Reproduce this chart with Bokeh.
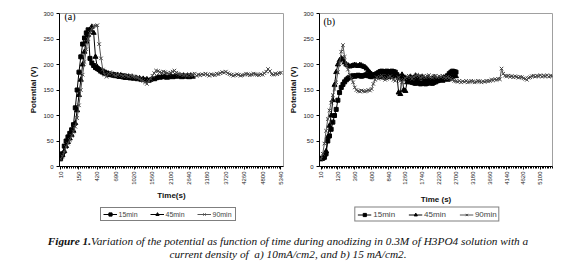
import math
from bokeh.plotting import figure
from bokeh.models import Range1d, FixedTicker, Legend, LegendItem, Label, Div
from bokeh.layouts import row, column
from bokeh.embed import file_html
from bokeh.resources import INLINE

# ---------------- data: panel (a), 10 mA/cm2 ----------------
ticks_a = ["10", "150", "420", "690", "1020", "1560", "2100", "2640", "3180",
           "3720", "4260", "4800", "5340"]
a_15min = [15, 25, 40, 50, 58, 65, 72, 82, 115, 150,
           185, 215, 240, 252, 262, 268, 212, 203, 198, 194,
           192, 190, 188, 186, 185, 183, 182, 181, 180, 180,
           179, 178, 177, 178, 176, 175, 176, 175, 174]
a_45min = [18, 22, 30, 40, 48, 55, 62, 70, 85, 110,
           140, 170, 200, 225, 245, 258, 268, 274, 262, 215,
           195, 190, 186, 184, 182, 181, 180, 179, 180, 178,
           177, 179, 176, 178, 175, 177, 174, 176, 173, 175,
           172, 174, 171, 173, 170, 172, 169, 171, 168, 170,
           172, 171, 173, 175, 174, 176, 175, 177, 174, 176,
           178, 175, 177, 176, 178, 177, 175, 178, 176, 177, 175, 178, 176]
a_90min = [15, 20, 28, 38, 45, 52, 60, 68, 78, 95,
           120, 150, 180, 205, 230, 250, 262, 270, 275, 276,
           277, 240, 212, 190, 180, 176, 182, 185, 183, 180,
           178, 180, 182, 179, 177, 180, 178, 176, 179, 177,
           176, 175, 174, 172, 170, 168, 165, 162, 168, 172,
           178, 183, 188, 187, 185, 184, 186, 185, 183, 182,
           184, 186, 188, 184, 182, 180, 181, 179, 180, 178,
           181, 179, 180, 182, 178, 180, 179, 181, 180, 182,
           180, 178, 181, 180, 179, 182, 181, 183, 185, 184,
           186, 183, 181, 180, 178, 179, 181, 180, 178, 179,
           180, 182, 181, 179, 180, 182, 181, 180, 179, 181,
           180, 183, 186, 191, 187, 181, 180, 182, 181, 183, 184]

# ---------------- data: panel (b), 15 mA/cm2 ----------------
ticks_b = ["10", "120", "360", "600", "840", "1260", "1740", "2220", "2700",
           "3180", "3660", "4140", "4620", "5100"]
b_15min = [15, 16, 18, 25, 50, 60, 73, 87, 100, 112,
           130, 145, 155, 161, 166, 170, 173, 175, 176, 178,
           177, 178, 179, 178, 177, 178, 179, 180, 178, 177,
           176, 178, 180, 182, 184, 186, 187, 186, 185, 187,
           186, 185, 187, 186, 185, 180, 176, 174, 176, 175,
           173, 170, 168, 166, 165, 164, 163, 165, 164, 162,
           163, 164, 162, 163, 165, 164, 163, 165, 166, 168,
           170, 171, 172, 174, 175, 178, 182, 185, 187, 186, 185]
b_45min = [15, 17, 22, 30, 58, 80, 100, 130, 160, 185,
           200, 208, 212, 210, 204, 200, 198, 196, 197, 198,
           199, 198, 197, 199, 198, 196, 195, 192, 188, 184,
           181, 179, 178, 176, 177, 175, 178, 176, 174, 177,
           175, 178, 176, 179, 177, 178, 145, 142, 180, 150,
           148, 165, 172, 176, 170, 174, 178, 172, 175, 173,
           176, 172, 170, 174, 171, 168, 172, 175, 170, 168,
           172, 170, 168, 171, 173, 170, 172, 174, 176, 178, 177]
b_90min = [15, 25, 45, 70, 93, 110, 125, 140, 152, 165,
           185, 203, 225, 238, 215, 200, 190, 180, 172, 165,
           155, 150, 148, 147, 149, 148, 147, 148, 150, 149,
           152, 162, 170, 175, 172, 176, 178, 174, 170, 172,
           175, 177, 173, 170, 168, 172, 175, 168, 165, 170,
           173, 176, 178, 175, 172, 176, 178, 180, 177, 174,
           176, 178, 175, 177, 179, 176, 174, 177, 178, 175,
           177, 176, 178, 175, 173, 176, 174, 172, 170, 168,
           167, 166, 168, 165, 167, 166, 168, 165, 166, 168,
           167, 165, 166, 168, 167, 165, 167, 166, 168, 167,
           168, 170, 169, 171, 170, 172, 171, 192, 182, 178,
           177, 178, 176, 177, 175, 177, 176, 174, 176, 175,
           173, 172, 170, 174, 175, 177, 178, 176, 178, 177,
           179, 176, 178, 177, 179, 176, 178, 177]

y_ticks = [0, 50, 100, 150, 200, 250, 300]
series_names = ["15min", "45min", "90min"]
SANS = "Liberation Sans"
SERIF = "Liberation Serif"

SPECS = [("square", 4, "black", "black"),
         ("triangle", 5, "black", "black"),
         ("x", 5, "#444", "#555")]


def draw_series(p, series):
    out = []
    for vals, (mk, sz, mc, lc) in zip(series, SPECS):
        xs = list(range(len(vals)))
        lr = p.line(xs, vals, line_color=lc, line_width=1)
        sr = p.scatter(xs, vals, marker=mk, size=sz, fill_color=mc,
                       line_color=mc, line_width=1)
        out.append((lr, sr))
    return out


def panel(w, h, bl, br, bt, bb, xr, ticks, series, tag, tag_xy, xlabel,
          xlab_standoff):
    n = len(series[2])
    p = figure(width=w, height=h, output_backend="svg",
               toolbar_location=None, x_range=Range1d(*xr),
               y_range=Range1d(0, 300), min_border_left=bl,
               min_border_right=br, min_border_top=bt, min_border_bottom=bb)
    p.grid.visible = False
    p.outline_line_color = "#a0a0a0"

    step = 10
    p.xaxis.ticker = FixedTicker(ticks=[i * step for i in range(len(ticks))],
                                 minor_ticks=list(range(n)))
    p.xaxis.major_label_overrides = {i * step: t for i, t in enumerate(ticks)}
    p.xaxis.major_label_orientation = math.pi / 2
    p.xaxis.major_tick_out = 3
    p.xaxis.major_tick_in = 0
    p.xaxis.minor_tick_out = 2
    p.xaxis.minor_tick_in = 0
    p.xaxis.major_label_standoff = 2
    p.xaxis.axis_label = xlabel
    p.xaxis.axis_label_standoff = xlab_standoff

    p.yaxis.ticker = FixedTicker(ticks=y_ticks, minor_ticks=[])
    p.yaxis.major_tick_out = 3
    p.yaxis.major_tick_in = 0
    p.yaxis.major_label_standoff = 3
    p.yaxis.axis_label = "Potential (V)"
    p.yaxis.axis_label_standoff = 2

    for ax in (p.xaxis, p.yaxis):
        ax.axis_line_color = "black"
        ax.major_tick_line_color = "black"
        ax.minor_tick_line_color = "black"
        ax.major_label_text_font = SANS
        ax.major_label_text_font_size = "6px"
        ax.major_label_text_color = "#222"
        ax.axis_label_text_font = SANS
        ax.axis_label_text_font_size = "8px"
        ax.axis_label_text_font_style = "bold"
        ax.axis_label_text_color = "#111"

    draw_series(p, series)
    p.add_layout(Label(x=tag_xy[0], y=tag_xy[1], x_units="screen",
                       y_units="screen", text=tag, text_font=SERIF,
                       text_font_size="10px", text_color="black"))
    return p


def legend_fig(w, h, series, spacing, font_size, glyph_w):
    # the series are drawn outside the visible y-range; only the legend shows
    lf = figure(width=w, height=h, output_backend="svg", toolbar_location=None,
                x_range=Range1d(0, 1), y_range=Range1d(1000, 1001),
                x_axis_location=None, y_axis_location=None, min_border=0)
    lf.grid.visible = False
    lf.outline_line_color = None
    rs = draw_series(lf, series)
    items = [LegendItem(label=nm, renderers=[lr, sr])
             for nm, (lr, sr) in zip(series_names, rs)]
    leg = Legend(items=items, location="center", orientation="horizontal",
                 border_line_color="black", border_line_width=1,
                 background_fill_color="white", background_fill_alpha=1,
                 padding=2, spacing=spacing, margin=0, glyph_width=glyph_w,
                 glyph_height=8, label_height=8, label_standoff=2,
                 label_text_font=SANS, label_text_font_size=font_size,
                 label_text_baseline="middle")
    lf.add_layout(leg)
    return lf


pa = panel(286, 206, 59, 3, 11, 35, (-0.6, 121.4), ticks_a,
           [a_15min, a_45min, a_90min], "(a)", (5, 145), "Time(s)", 3)
pb = panel(286, 206, 28, 20, 13, 38, (-0.9, 137.2), ticks_b,
           [b_15min, b_45min, b_90min], "(b)", (4, 140), "Time (s)", 7)
la = legend_fig(335, 16, [a_15min, a_45min, a_90min], 11, "7px", 14)
lb = legend_fig(184, 16, [b_15min, b_45min, b_90min], 13, "8px", 14)

caption = Div(
    text=('<div style="width:576px;padding-top:13px;text-align:center;'
          'font-family:\'Liberation Serif\';'
          'font-style:italic;font-size:11.3px;line-height:12.5px;color:#111;">'
          '<b>Figure 1.</b>Variation of the potential as function of time during '
          'anodizing in 0.3M of H3PO4 solution with a<br>'
          'current density of &nbsp;a) 10mA/cm2, and b) 15 mA/cm2.</div>'),
    width=576, height=35, margin=0)

layout = column(row(pa, pb), row(la, lb), caption)
open("out.html", "w").write(file_html(layout, INLINE))
